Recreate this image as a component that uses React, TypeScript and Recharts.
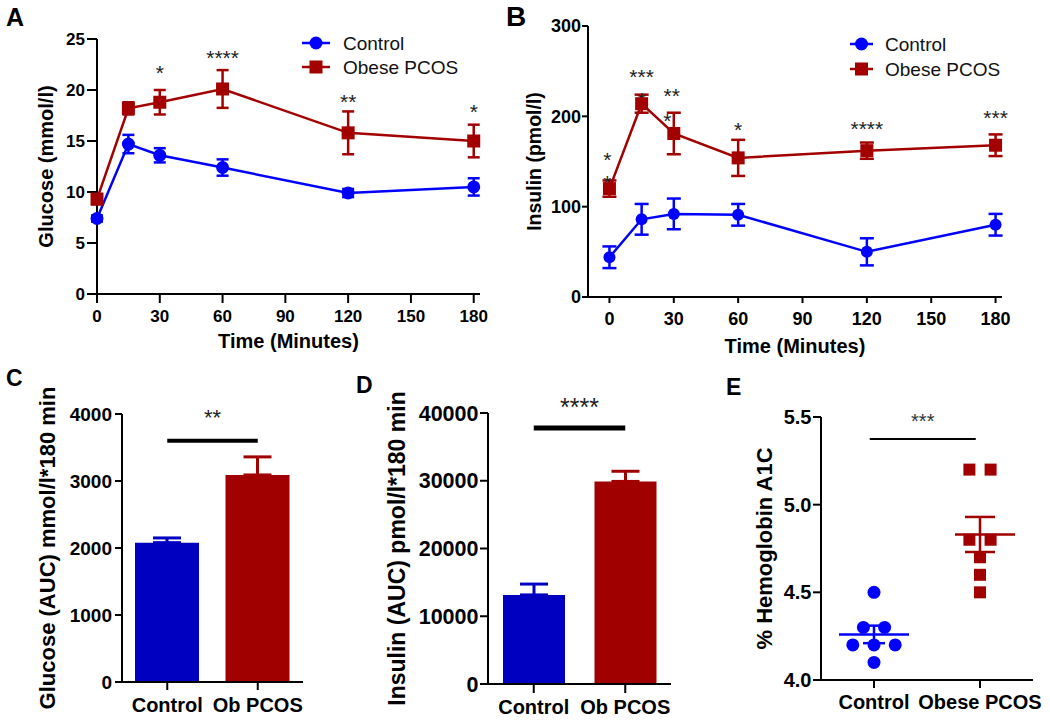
import React from 'react';
import {
  LineChart, Line, XAxis, YAxis, ErrorBar, Legend, ReferenceDot,
  BarChart, Bar, Cell, ReferenceLine, ScatterChart, Scatter,
} from 'recharts';

const FONT = '"Liberation Sans", Arial, sans-serif';
const BLUE = '#0000FF';
const RED = '#A30000';
const BAR_BLUE = '#0000C0';
const BAR_RED = '#A00000';
const INK = '#000';
const STAR = '#222';

// OGTT time points (minutes)
const times = [0, 15, 30, 60, 120, 180];
const timeTicks = [0, 30, 60, 90, 120, 150, 180];

// A: glucose mean / SEM
const glucoseControl = [7.4, 14.7, 13.6, 12.4, 9.9, 10.5];
const glucoseControlSem = [0.3, 0.9, 0.7, 0.8, 0.4, 0.85];
const glucosePcos = [9.3, 18.2, 18.8, 20.1, 15.8, 15.0];
const glucosePcosSem = [0.5, 0.6, 1.2, 1.85, 2.1, 1.6];
const glucoseSigTimes = [30, 60, 120, 180];
const glucoseSigY = [22.2, 23.6, 19.3, 18.3];
const glucoseSigMarks = ['*', '****', '**', '*'];

// B: insulin mean / SEM
const insulinControl = [44, 86, 92, 91, 50, 80];
const insulinControlSem = [12, 17, 17, 12, 15, 12];
const insulinPcos = [120, 214, 181, 154, 162, 168];
const insulinPcosSem = [9, 10, 23, 20, 9, 12];
const insulinSigTimes = [-1, -1, 15, 15, 29, 27, 60, 120, 180];
const insulinSigY = [157, 132, 249, 224, 228, 201, 191, 192, 204];
const insulinSigMarks = ['*', '*', '***', '*', '**', '*', '*', '****', '***'];

// C, D: area under curve
const aucGroups = ['Control', 'Ob PCOS'];
const glucoseAuc = [2080, 3090];
const glucoseAucSem = [70, 270];
const insulinAuc = [13150, 29900];
const insulinAucSem = [1600, 1500];

// E: HbA1c individual values
const a1cGroups = ['Control', 'Obese PCOS'];
const a1cControl = [4.5, 4.3, 4.3, 4.2, 4.2, 4.2, 4.1];
const a1cControlJitter = [0, -0.1, 0.1, -0.2, 0, 0.2, 0];
const a1cPcos = [5.2, 5.2, 4.8, 4.8, 4.7, 4.6, 4.5];
const a1cPcosJitter = [-0.1, 0.1, -0.1, 0.1, 0, 0, 0];
const a1cMean = [4.26, 4.83];
const a1cSem = [0.05, 0.1];

const glucoseRows = times.map((t, i) => ({
  t, control: glucoseControl[i], controlErr: glucoseControlSem[i], pcos: glucosePcos[i], pcosErr: glucosePcosSem[i],
}));
const insulinRows = times.map((t, i) => ({
  t, control: insulinControl[i], controlErr: insulinControlSem[i], pcos: insulinPcos[i], pcosErr: insulinPcosSem[i],
}));
const glucoseAucRows = aucGroups.map((g, i) => ({ group: g, auc: glucoseAuc[i], sem: glucoseAucSem[i] }));
const insulinAucRows = aucGroups.map((g, i) => ({ group: g, auc: insulinAuc[i], sem: insulinAucSem[i] }));
const a1cControlPts = a1cControl.map((y, i) => ({ x: 0.5 + a1cControlJitter[i], y }));
const a1cPcosPts = a1cPcos.map((y, i) => ({ x: 1.5 + a1cPcosJitter[i], y }));

const axisStyle = { stroke: INK, strokeWidth: 2 };
const tickFont = (fontSize: number) => ({ fontSize, fontWeight: 700, fill: INK, fontFamily: FONT });

const circleDot = (r: number, color: string) => (p: any) =>
  <circle key={p.key} cx={p.cx} cy={p.cy} r={r} fill={color} />;
const squareDot = (s: number, color: string) => (p: any) =>
  <rect key={p.key} x={p.cx - s / 2} y={p.cy - s / 2} width={s} height={s} fill={color} />;
const starText = (mark: string, fs: number) => (p: any) =>
  <text x={p.cx} y={p.cy + fs * 0.575} textAnchor="middle" fontSize={fs} fill={STAR} fontFamily={FONT}>{mark}</text>;
const meanBar = (left: number, right: number, color: string) => (p: any) =>
  <line x1={p.cx - left} x2={p.cx + right} y1={p.cy} y2={p.cy} stroke={color} strokeWidth={2.5} />;

function SeriesKey({ lineLen, gap, rowGap }: { lineLen: number; gap: number; rowGap: number }) {
  const items = [
    { name: 'Control', color: BLUE, square: false },
    { name: 'Obese PCOS', color: RED, square: true },
  ];
  const mid = 2 + lineLen / 2;
  return (
    <svg width={220} height={60} style={{ display: 'block', overflow: 'visible' }}>
      {items.map((it, i) => {
        const cy = 13 + i * rowGap;
        return (
          <g key={it.name}>
            <line x1={2} x2={2 + lineLen} y1={cy} y2={cy} stroke={it.color} strokeWidth={2.5} />
            {it.square
              ? <rect x={mid - 6.5} y={cy - 6.5} width={13} height={13} fill={it.color} />
              : <circle cx={mid} cy={cy} r={6.5} fill={it.color} />}
            <text x={2 + lineLen + gap} y={cy + 19 * 0.36} fontSize={19} fill="#111" fontFamily={FONT}>{it.name}</text>
          </g>
        );
      })}
    </svg>
  );
}

function yTitle(value: string, offset: number, fontSize: number) {
  return {
    value, angle: -90, position: 'insideLeft' as const, offset, fontSize, fontWeight: 700, fill: INK,
    fontFamily: FONT, style: { textAnchor: 'middle' },
  };
}

export default function App() {
  return (
    <div style={{ position: 'absolute', left: 0, top: 0, width: 1050, height: 722, background: '#fff', fontFamily: FONT }}>
      {/* A */}
      <div style={{ position: 'absolute', left: 0, top: 0 }}>
        <LineChart width={500} height={360} data={glucoseRows} margin={{ top: 39, right: 20, bottom: 0, left: 0 }}>
          <XAxis type="number" dataKey="t" domain={[0, 183]} ticks={timeTicks} height={66} tickSize={9} tickMargin={7}
            tick={tickFont(17)} axisLine={axisStyle} tickLine={axisStyle}
            label={{ value: 'Time (Minutes)', position: 'insideBottom', offset: 12, fontSize: 20, fontWeight: 700, fill: INK, fontFamily: FONT }} />
          <YAxis type="number" domain={[0, 25]} ticks={[0, 5, 10, 15, 20, 25]} width={97} tickSize={10} tickMargin={2}
            tick={tickFont(17)} axisLine={axisStyle} tickLine={axisStyle} label={yTitle('Glucose (mmol/l)', 46, 20)} />
          <Legend layout="horizontal" verticalAlign="middle" align="center" wrapperStyle={{ left: 300, top: 30, width: 220 }}
            content={() => <SeriesKey lineLen={28} gap={13} rowGap={24} />} />
          <Line dataKey="control" stroke={BLUE} strokeWidth={2.5} dot={circleDot(6.5, BLUE)} isAnimationActive={false}>
            <ErrorBar dataKey="controlErr" direction="y" width={6} stroke={BLUE} strokeWidth={2.5} />
          </Line>
          <Line dataKey="pcos" stroke={RED} strokeWidth={2.5} dot={squareDot(13, RED)} isAnimationActive={false}>
            <ErrorBar dataKey="pcosErr" direction="y" width={6} stroke={RED} strokeWidth={2.5} />
          </Line>
          {glucoseSigTimes.map((t, i) => (
            <ReferenceDot key={i} x={t} y={glucoseSigY[i]} r={0} shape={starText(glucoseSigMarks[i], 21)} />
          ))}
        </LineChart>
      </div>

      {/* B */}
      <div style={{ position: 'absolute', left: 500, top: 0 }}>
        <LineChart width={550} height={360} data={insulinRows} margin={{ top: 26, right: 48, bottom: 0, left: 0 }}>
          <XAxis type="number" dataKey="t" domain={[-10, 183]} ticks={timeTicks} height={63} tickSize={6} tickMargin={9}
            tick={tickFont(18)} axisLine={axisStyle} tickLine={axisStyle}
            label={{ value: 'Time (Minutes)', position: 'insideBottom', offset: 7, fontSize: 20, fontWeight: 700, fill: INK, fontFamily: FONT }} />
          <YAxis type="number" domain={[0, 300]} ticks={[0, 100, 200, 300]} width={88} tickSize={6} tickMargin={1}
            tick={tickFont(18)} axisLine={axisStyle} tickLine={axisStyle} label={yTitle('Insulin (pmol/l)', 34, 19.5)} />
          <Legend layout="horizontal" verticalAlign="middle" align="center" wrapperStyle={{ left: 348, top: 31, width: 220 }}
            content={() => <SeriesKey lineLen={23} gap={12} rowGap={25} />} />
          <Line dataKey="control" stroke={BLUE} strokeWidth={2.5} dot={circleDot(6, BLUE)} isAnimationActive={false}>
            <ErrorBar dataKey="controlErr" direction="y" width={7} stroke={BLUE} strokeWidth={2.5} />
          </Line>
          <Line dataKey="pcos" stroke={RED} strokeWidth={2.5} dot={squareDot(13, RED)} isAnimationActive={false}>
            <ErrorBar dataKey="pcosErr" direction="y" width={7} stroke={RED} strokeWidth={2.5} />
          </Line>
          {insulinSigTimes.map((t, i) => (
            <ReferenceDot key={i} x={t} y={insulinSigY[i]} r={0} shape={starText(insulinSigMarks[i], 21)} />
          ))}
        </LineChart>
      </div>

      {/* C */}
      <div style={{ position: 'absolute', left: 0, top: 360 }}>
        <BarChart width={350} height={362} data={glucoseAucRows} margin={{ top: 54, right: 47, bottom: 0, left: 0 }}>
          <XAxis dataKey="group" height={40} tickSize={8} tickMargin={8} tick={tickFont(20)} axisLine={axisStyle} tickLine={axisStyle} />
          <YAxis type="number" domain={[0, 4000]} ticks={[0, 1000, 2000, 3000, 4000]} width={122} tickSize={7} tickMargin={3}
            tick={tickFont(19)} axisLine={axisStyle} tickLine={axisStyle} label={yTitle('Glucose (AUC) mmol/l*180 min', 47, 22)} />
          <ReferenceLine segment={[{ x: 'Control', y: 3600 }, { x: 'Ob PCOS', y: 3600 }]} stroke={INK} strokeWidth={4}
            label={{ value: '**', position: 'top', offset: 16, fontSize: 22, fill: STAR, fontFamily: FONT }} />
          <Bar dataKey="auc" barSize={64} isAnimationActive={false}>
            {glucoseAucRows.map((r, i) => <Cell key={r.group} fill={i === 0 ? BAR_BLUE : BAR_RED} />)}
            <ErrorBar dataKey={(d: any) => (d.group === 'Control' ? [0, d.sem] : null)} direction="y" width={14} stroke={BAR_BLUE} strokeWidth={3} />
            <ErrorBar dataKey={(d: any) => (d.group !== 'Control' ? [0, d.sem] : null)} direction="y" width={14} stroke={BAR_RED} strokeWidth={3} />
          </Bar>
        </BarChart>
      </div>

      {/* D */}
      <div style={{ position: 'absolute', left: 350, top: 360 }}>
        <BarChart width={350} height={362} data={insulinAucRows} margin={{ top: 53, right: 29, bottom: 0, left: 0 }}>
          <XAxis dataKey="group" height={38} tickSize={9} tickMargin={7} tick={tickFont(20)} axisLine={axisStyle} tickLine={axisStyle} />
          <YAxis type="number" domain={[0, 40000]} ticks={[0, 10000, 20000, 30000, 40000]} width={138} tickSize={8} tickMargin={1.5}
            tick={tickFont(21.5)} axisLine={axisStyle} tickLine={axisStyle} label={yTitle('Insulin (AUC) pmol/l*180 min', 47, 23)} />
          <ReferenceLine segment={[{ x: 'Control', y: 37800 }, { x: 'Ob PCOS', y: 37800 }]} stroke={INK} strokeWidth={5}
            label={{ value: '****', position: 'top', offset: 12, fontSize: 25, fill: STAR, fontFamily: FONT }} />
          <Bar dataKey="auc" barSize={62} isAnimationActive={false}>
            {insulinAucRows.map((r, i) => <Cell key={r.group} fill={i === 0 ? BAR_BLUE : BAR_RED} />)}
            <ErrorBar dataKey={(d: any) => (d.group === 'Control' ? [0, d.sem] : null)} direction="y" width={14} stroke={BAR_BLUE} strokeWidth={3} />
            <ErrorBar dataKey={(d: any) => (d.group !== 'Control' ? [0, d.sem] : null)} direction="y" width={14} stroke={BAR_RED} strokeWidth={3} />
          </Bar>
        </BarChart>
      </div>

      {/* E */}
      <div style={{ position: 'absolute', left: 700, top: 360 }}>
        <ScatterChart width={350} height={362} margin={{ top: 57, right: 17, bottom: 0, left: 0 }}>
          <XAxis type="number" dataKey="x" domain={[0, 2]} ticks={[0.5, 1.5]} tickFormatter={(v: number) => a1cGroups[v < 1 ? 0 : 1]}
            height={42} tickSize={8} tickMargin={7} tick={tickFont(20)} axisLine={axisStyle} tickLine={axisStyle} />
          <YAxis type="number" dataKey="y" domain={[4, 5.5]} ticks={[4, 4.5, 5, 5.5]} tickFormatter={(v: number) => v.toFixed(1)}
            width={121} tickSize={8} tickMargin={1.5} tick={tickFont(20)} axisLine={axisStyle} tickLine={axisStyle}
            label={yTitle('% Hemoglobin A1C', 64, 22)} />
          <ReferenceLine segment={[{ x: 0.46, y: 5.374 }, { x: 1.46, y: 5.374 }]} stroke={INK} strokeWidth={2}
            label={{ value: '***', position: 'top', offset: 11, fontSize: 20, fill: '#333', fontFamily: FONT }} />
          <Scatter data={a1cControlPts} shape={circleDot(6.5, BLUE)} isAnimationActive={false} />
          <Scatter data={a1cPcosPts} shape={squareDot(12, BAR_RED)} isAnimationActive={false} />
          <Scatter data={[{ x: 0.5, y: a1cMean[0], sem: a1cSem[0] }]} shape={meanBar(35, 35, BLUE)} isAnimationActive={false}>
            <ErrorBar dataKey="sem" direction="y" width={11} stroke={BLUE} strokeWidth={2.5} />
          </Scatter>
          <Scatter data={[{ x: 1.5, y: a1cMean[1], sem: a1cSem[1] }]} shape={meanBar(25, 35, BAR_RED)} isAnimationActive={false}>
            <ErrorBar dataKey="sem" direction="y" width={15} stroke={BAR_RED} strokeWidth={2.5} />
          </Scatter>
        </ScatterChart>
      </div>

      {/* panel letters */}
      <svg width={1050} height={722} style={{ position: 'absolute', left: 0, top: 0, pointerEvents: 'none' }}>
        <g fontFamily={FONT} fontWeight={700} fill={INK}>
          <text x={6} y={26} fontSize={25}>A</text>
          <text x={506} y={26} fontSize={28}>B</text>
          <text x={6} y={386} fontSize={23}>C</text>
          <text x={356} y={393} fontSize={23}>D</text>
          <text x={726} y={395} fontSize={23}>E</text>
        </g>
      </svg>
    </div>
  );
}
